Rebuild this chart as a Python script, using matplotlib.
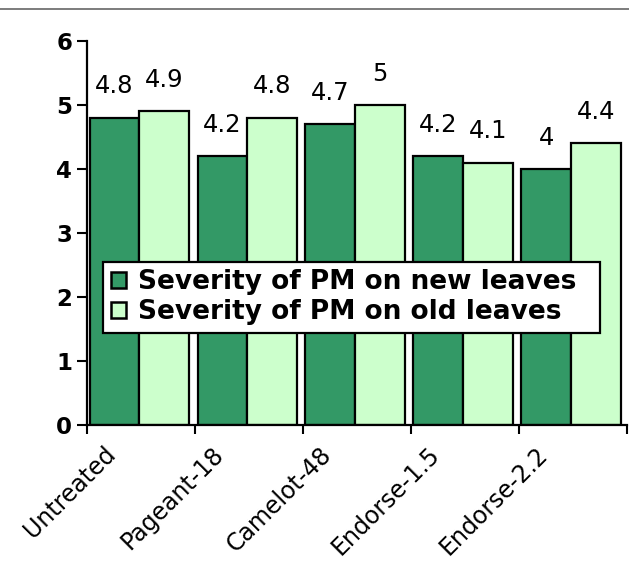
import matplotlib
matplotlib.use("Agg")
import matplotlib.pyplot as plt
import matplotlib.transforms as mtransforms
from matplotlib.lines import Line2D
import numpy as np

categories = ["Untreated", "Pageant-18", "Camelot-48", "Endorse-1.5", "Endorse-2.2"]
new_leaves = [4.8, 4.2, 4.7, 4.2, 4.0]
old_leaves = [4.9, 4.8, 5.0, 4.1, 4.4]
value_labels_new = ["4.8", "4.2", "4.7", "4.2", "4"]
value_labels_old = ["4.9", "4.8", "5", "4.1", "4.4"]
series_names = ["Severity of PM on new leaves", "Severity of PM on old leaves"]
yticks = [0, 1, 2, 3, 4, 5, 6]

dark = "#339966"
light = "#CCFFCC"

plt.rcParams['font.family'] = ['DejaVu Sans']

W, H = 629, 577
fig = plt.figure(figsize=(W / 100, H / 100), dpi=100)
ax = fig.add_axes([87.5 / W, 1 - 425 / H, (627 - 87.5) / W, (425 - 41) / H])

x = np.arange(len(categories)) + 0.48
bw = 0.46
b1 = ax.bar(x - bw / 2, new_leaves, bw, color=dark, edgecolor="black", linewidth=1.6,
            label=series_names[0], zorder=2)
b2 = ax.bar(x + bw / 2, old_leaves, bw, color=light, edgecolor="black", linewidth=1.6,
            label=series_names[1], zorder=2)

for rects, labs in ((b1, value_labels_new), (b2, value_labels_old)):
    for r, t in zip(rects, labs):
        ax.annotate(t, (r.get_x() + r.get_width() / 2, r.get_height()),
                    xytext=(0, 17.5), textcoords="offset points",
                    ha="center", va="baseline", fontsize=17.5, color="black")

ax.set_xlim(0, 5)
ax.set_ylim(0, 6)
ax.set_yticks(yticks)
ax.set_yticklabels([str(v) for v in yticks], fontsize=16.5, fontweight="bold")
ax.tick_params(axis="y", length=7, width=1.5, pad=4, direction="out")
ax.set_xticks(np.arange(0, 6))
ax.set_xticklabels([])
ax.tick_params(axis="x", length=6.5, width=1.5, direction="out")

for s in ("top", "right"):
    ax.spines[s].set_visible(False)
for s in ("left", "bottom"):
    ax.spines[s].set_linewidth(1.6)
    ax.spines[s].set_zorder(3)

offset = mtransforms.ScaledTranslation(-21 / 100, -17 / 100, fig.dpi_scale_trans)
trans = ax.get_xaxis_transform() + offset
for i, c in enumerate(categories):
    ax.text(i + 0.5, 0, c, transform=trans, rotation=45, ha="right", va="top",
            fontsize=17)

# legend
leg = ax.legend(loc="lower left", bbox_to_anchor=(0.148, 1.44, 4.75 - 0.148, 2.55 - 1.44),
                bbox_transform=ax.transData, mode="expand", frameon=True, fancybox=False,
                borderaxespad=0, handlelength=0.58, handleheight=0.58, handletextpad=0.45,
                labelspacing=0.15, borderpad=0.28, framealpha=1,
                prop={"family": "DejaVu Sans", "weight": "bold", "size": 19})
leg.get_frame().set_edgecolor("black")
leg.get_frame().set_linewidth(1.6)
leg.set_zorder(5)
for p in leg.get_patches():
    p.set_linewidth(1.8)

fig.add_artist(Line2D([0, 1], [1 - 9 / H, 1 - 9 / H], transform=fig.transFigure,
                      color="#666666", linewidth=1.2))

fig.savefig("out.png", dpi=100)
